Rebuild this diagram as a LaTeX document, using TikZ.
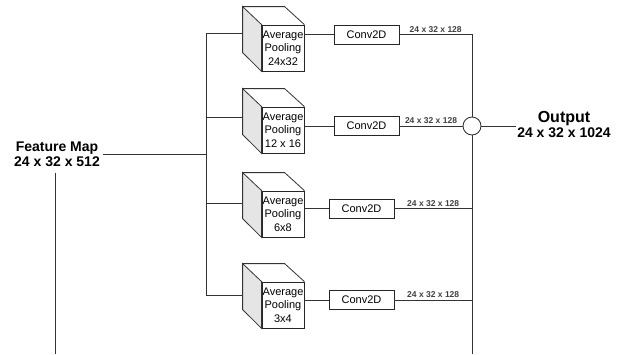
\documentclass[tikz,border=0pt]{standalone}
\usepackage{fontspec}
\setmainfont{Liberation Sans}
\usetikzlibrary{calc}

\begin{document}
\begin{tikzpicture}[x=1pt,y=-1pt,
  conn/.style={draw=black!80,line width=0.8pt},
  cubeface/.style={draw=black!85,line width=0.8pt,fill=white,minimum width=42pt,minimum height=46pt,
    inner sep=0pt,align=center,font=\fontsize{11}{13.5}\selectfont},
  convbox/.style={draw=black!85,line width=0.8pt,minimum width=65pt,minimum height=19pt,
    inner sep=0pt,font=\fontsize{11}{12}\selectfont},
  dimlabel/.style={above,inner sep=2pt,text=black!75,font=\bfseries\fontsize{8.5}{9}\selectfont},
  headlabel/.style={align=center,inner sep=3pt,font=\bfseries\fontsize{14}{15}\selectfont}]
\useasboundingbox (0,0) rectangle (619,354);

% input feature map
\node[headlabel] (fm) at (57,154) {Feature Map\\24 x 32 x 512};
\coordinate (fmdown) at (55,354);
\draw[conn,shorten <=3pt] (fmdown |- fm.south) -- (fmdown);

% pooling branches
\foreach \r/\t/\by/\cx/\cy/\lbl in {1/7/33/334/34.5/24x32, 2/89/117/334/126/12 x 16,
    3/173/203/329/208.5/6x8, 4/264/295/329/300/3x4}{
  \node[cubeface] (pool\r) at (283,{\t+41}) {Average\\Pooling\\\lbl};
  \draw[conn,fill=black!10] (pool\r.north west) -- ++(-19,-18) coordinate (back\r)
    -- ++(0,46) -- (pool\r.south west) -- cycle;
  \draw[conn] (back\r) -- ++(42,0) -- (pool\r.north east);
  \node[convbox] (conv\r) at ({\cx+32.5},\cy) {Conv2D};
  \draw[conn] (pool\r.east |- conv\r.west) -- (conv\r.west);
  \coordinate (tap\r) at (206,\by);
  \draw[conn] (tap\r) -- (tap\r -| back\r);
}
\draw[conn] (tap1) -- (tap4);
\draw[conn] (fm.east) -- (fm.east -| tap1);

% concatenation
\node[circle,draw=black!85,line width=0.8pt,minimum size=18pt,inner sep=0pt] (sum) at (472,126) {};
\coordinate (sumdown) at (472,354);
\draw[conn] (conv1.east) -- node[dimlabel]{24 x 32 x 128} (conv1.east -| sum) -- (sum.north);
\draw[conn] (conv2.east) -- node[dimlabel]{24 x 32 x 128} (sum.west);
\draw[conn] (conv3.east) -- node[dimlabel]{24 x 32 x 128} (conv3.east -| sum);
\draw[conn] (conv4.east) -- node[dimlabel]{24 x 32 x 128} (conv4.east -| sum);
\draw[conn] (sum.south) -- (sumdown);

% output
\node[headlabel,inner sep=1pt] (out) at (564,124) {{\fontsize{16}{17}\selectfont Output}\\24 x 32 x 1024};
\draw[conn] (sum.east) -- (sum.east -| out.west);
\end{tikzpicture}
\end{document}
